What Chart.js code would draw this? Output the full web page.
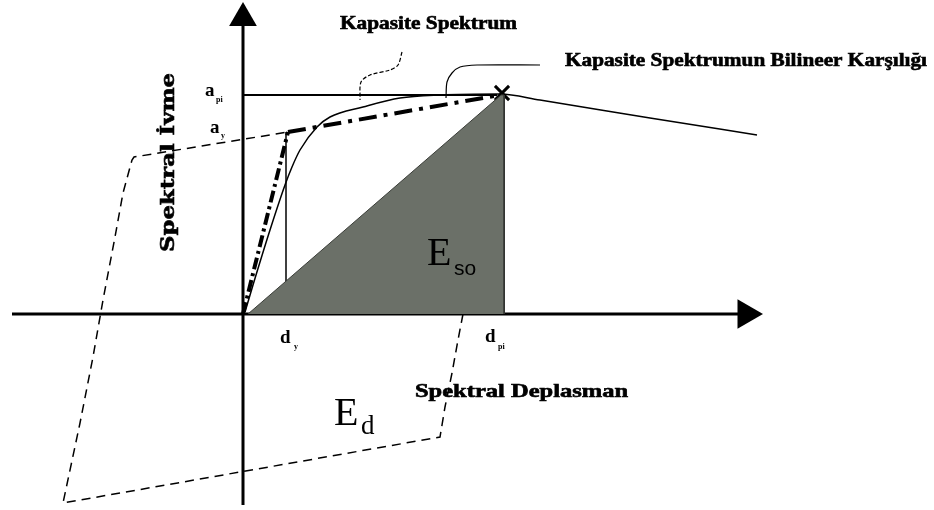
<!DOCTYPE html>
<html>
<head>
<meta charset="utf-8">
<script src="https://cdn.jsdelivr.net/npm/chart.js@4.4.1/dist/chart.umd.min.js"></script>
<style>
  body { margin: 0; background: #fff; }
  canvas { display: block; }
</style>
</head>
<body>
<canvas id="diagram" width="934" height="510"></canvas>
<script>
// 1) Data (diagram units, origin where the two axes cross)
const dY = 43, dPi = 261, aY = 182, aPi = 219;

// capacity spectrum curve
const capX = [2, 10, 27, 42, 49, 57, 74, 87, 120, 157, 197, 257, 297, 407, 514];
const capY = [2, 29, 84, 129, 147, 164, 187, 197, 207, 216, 219, 220, 214, 196, 179];

// bilinear counterpart
const bilin1X = [0, 45];
const bilin1Y = [0, 182];
const bilin2X = [45, 257];
const bilin2Y = [182, 219];

// hysteresis loop (E_d), from the x axis downwards round to the knee
const loopX = [220, 215, 209, 202, 197, -180, -163, -150, -140, -128, -120, -111, -109, 45];
const loopY = [0, -26, -59, -93, -123, -189, -109, -43, 14, 77, 121, 154, 157, 182];

// shaded triangle E_so
const triX = [5, 258, 261, 261];
const triY = [0, 219, 219, 0];

// leader lines to the two captions
const lead1X = [159, 155, 147, 127, 118, 117];
const lead1Y = [262, 249, 244, 239, 232, 214];
const lead2X = [297, 234, 217, 209, 204, 203];
const lead2Y = [249, 249, 247, 241, 232, 216];

// axes
const xAxisX = [-231, 495];
const yAxisY = [-191, 290];
const peak = { x: 259, y: 221 };

const pts = (xs, ys) => xs.map((x, i) => ({ x: x, y: ys[i] }));

// 2) Text labels
const captions = [
  { text: "Kapasite Spektrum", x: 97, y: 285, w: 177, font: 'bold 18px "Liberation Serif"' },
  { text: "Kapasite Spektrumun Bilineer Karşılığı", x: 322, y: 248, w: 362, font: 'bold 18px "Liberation Serif"' },
  { text: "Spektral Deplasman", x: 172, y: -83, w: 213, font: 'bold 18px "Liberation Serif"' }
];

function fitText(ctx, text, font, left, base, width) {
  ctx.font = font;
  const w = ctx.measureText(text).width;
  ctx.save();
  ctx.translate(left, base);
  ctx.scale(width / w, 1);
  ctx.fillText(text, 0, 0);
  ctx.lineWidth = 0.6;
  ctx.strokeText(text, 0, 0);
  ctx.restore();
}

const labelPlugin = {
  id: "labels",
  afterDraw(chart) {
    const ctx = chart.ctx;
    const sx = chart.scales.x, sy = chart.scales.y;
    const px = v => sx.getPixelForValue(v);
    const py = v => sy.getPixelForValue(v);
    ctx.save();
    ctx.fillStyle = "#000";
    ctx.strokeStyle = "#000";
    ctx.textBaseline = "alphabetic";

    captions.forEach(c => fitText(ctx, c.text, c.font, px(c.x), py(c.y), c.w));

    // vertical axis title
    ctx.save();
    ctx.translate(px(-69), py(62));
    ctx.rotate(-Math.PI / 2);
    fitText(ctx, "Spektral İvme", 'bold 19px "DejaVu Serif"', 0, 0, 179);
    ctx.restore();

    // a and d markers
    ctx.font = 'bold 19px "Liberation Serif"';
    ctx.fillText("a", px(-38), py(aPi) + 1);
    ctx.fillText("a", px(-33), py(aY) + 1);
    ctx.fillText("d", px(dY - 6), py(-29));
    ctx.fillText("d", px(dPi - 19), py(-28));
    ctx.font = 'bold 8px "Liberation Serif"';
    ctx.fillText("pi", px(-27), py(aPi) + 7);
    ctx.fillText("y", px(-22), py(aY) + 6);
    ctx.fillText("y", px(dY + 8), py(-29) + 6);
    ctx.fillText("pi", px(dPi - 6), py(-28) + 7);

    // energy labels
    ctx.font = '40px "Liberation Serif"';
    ctx.fillText("E", px(184), py(49));
    ctx.fillText("E", px(91), py(-111));
    ctx.font = '21px "Liberation Sans"';
    ctx.fillText("so", px(211), py(39));
    ctx.font = '27px "Liberation Serif"';
    ctx.fillText("d", px(118), py(-120));
    ctx.restore();
  }
};

// 3) Chart
const line = (data, extra) => Object.assign({
  data: data,
  borderColor: "#000",
  borderWidth: 1.5,
  pointRadius: 0,
  fill: false,
  tension: 0
}, extra);

new Chart(document.getElementById("diagram"), {
  type: "line",
  data: {
    datasets: [
      line(pts(triX, triY), { fill: "origin", backgroundColor: "#6b7068", borderColor: "#3a3d38", borderWidth: 1 }),
      line(pts(loopX, loopY), { borderDash: [9, 6] }),
      line(pts(xAxisX, [0, 0]), { borderWidth: 3 }),
      line(pts([0, 0], yAxisY), { borderWidth: 3 }),
      line(pts([0, 254], [aPi, aPi]), { borderWidth: 2 }),
      line(pts([dY, dY], [0, aY]), { borderWidth: 1.5 }),
      line(pts([dPi, dPi], [0, aPi]), { borderWidth: 2 }),
      line(pts(capX, capY), { cubicInterpolationMode: "monotone" }),
      line(pts(bilin1X, bilin1Y), { borderWidth: 4, borderDash: [12, 4, 3, 4] }),
      line(pts(bilin2X, bilin2Y), { borderWidth: 4, borderDash: [18, 7, 4, 7] }),
      line(pts(lead1X, lead1Y), { borderWidth: 1.2, borderDash: [4, 2], tension: 0.3 }),
      line(pts(lead2X, lead2Y), { borderWidth: 1.2, tension: 0.3 }),
      line([{ x: 0, y: 296 }], { showLine: false, pointStyle: "triangle", pointRadius: 16, pointBackgroundColor: "#000", pointBorderWidth: 0 }),
      line([{ x: 503, y: 0 }], { showLine: false, pointStyle: "triangle", pointRotation: 90, pointRadius: 17, pointBackgroundColor: "#000", pointBorderWidth: 0 }),
      line([peak], { showLine: false, pointStyle: "crossRot", pointRadius: 10, pointBorderWidth: 3, pointBorderColor: "#000" })
    ]
  },
  options: {
    responsive: false,
    animation: false,
    devicePixelRatio: 1,
    layout: { padding: 0, autoPadding: false },
    plugins: { legend: { display: false }, tooltip: { enabled: false } },
    scales: {
      x: { type: "linear", min: -243, max: 691, display: false },
      y: { type: "linear", min: -196, max: 314, display: false }
    }
  },
  plugins: [labelPlugin]
});
</script>
</body>
</html>
